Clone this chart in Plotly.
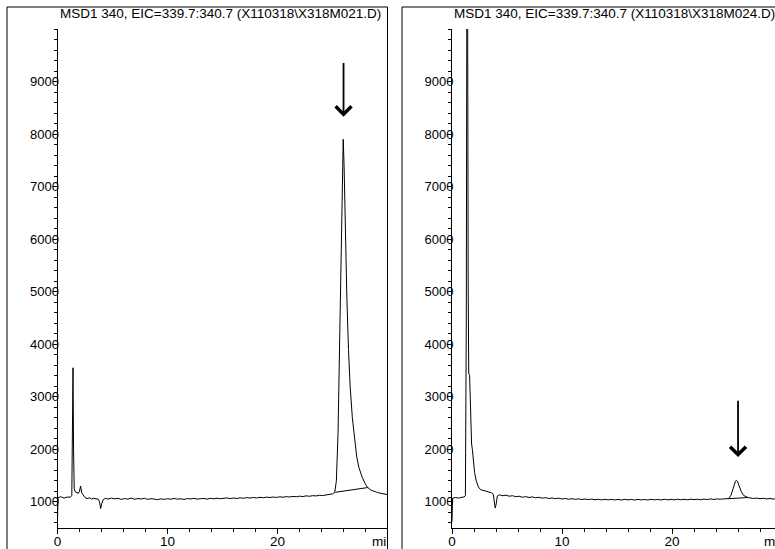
import plotly.graph_objects as go

# ---------------- data ----------------
titles = [r"MSD1 340, EIC=339.7:340.7 (X110318\X318M021.D)",
          r"MSD1 340, EIC=339.7:340.7 (X110318\X318M024.D)"]

left_time = [0.0, 0.05, 0.3, 0.6, 0.9, 1.15, 1.3, 1.36, 1.41, 1.46, 1.52, 1.6, 1.75, 1.9, 2.0, 2.1, 2.2,
             2.35, 2.5, 2.7, 2.9, 3.1, 3.3, 3.5, 3.7, 3.82, 3.92, 4.02, 4.15, 4.35, 4.6, 4.9, 5.2, 5.5,
             5.8, 6.1, 6.4, 6.7, 7.0, 7.3, 7.6, 7.9, 8.2, 8.5, 8.8, 9.1, 9.4, 9.7, 10.0, 10.3, 10.6,
             10.9, 11.2, 11.5, 11.8, 12.1, 12.4, 12.7, 13.0, 13.3, 13.6, 13.9, 14.2, 14.5, 14.8, 15.1,
             15.4, 15.7, 16.0, 16.3, 16.6, 16.9, 17.2, 17.5, 17.8, 18.1, 18.4, 18.7, 19.0, 19.3, 19.6,
             19.9, 20.2, 20.5, 20.8, 21.1, 21.4, 21.7, 22.0, 22.3, 22.6, 22.9, 23.2, 23.5, 23.8, 24.1,
             24.4, 24.7, 25.0, 25.2, 25.35, 25.5, 25.65, 25.8, 25.9, 25.97, 26.05, 26.15, 26.3, 26.45,
             26.6, 26.8, 27.0, 27.2, 27.4, 27.7, 28.0, 28.2, 28.5, 28.8, 29.1, 29.4, 29.7, 30.0]
left_signal = [650, 1080, 1095, 1070, 1090, 1085, 1120, 2200, 3550, 2000, 1250, 1190, 1170, 1160, 1200,
               1300, 1170, 1110, 1080, 1060, 1075, 1050, 1065, 1055, 1050, 1000, 870, 960, 1040, 1065,
               1050, 1070, 1055, 1065, 1045, 1060, 1050, 1068, 1048, 1060, 1052, 1066, 1045, 1058, 1050,
               1040, 1055, 1045, 1058, 1048, 1062, 1050, 1056, 1044, 1060, 1052, 1065, 1050, 1058, 1062,
               1050, 1066, 1055, 1068, 1058, 1064, 1072, 1060, 1070, 1062, 1075, 1066, 1078, 1070, 1080,
               1072, 1084, 1076, 1088, 1080, 1090, 1082, 1094, 1086, 1098, 1090, 1102, 1095, 1106, 1098,
               1112, 1104, 1116, 1110, 1124, 1118, 1132, 1140, 1150, 1175, 1400, 2300, 4200, 6400, 7500,
               7900, 7400, 6300, 4900, 3900, 3200, 2600, 2150, 1850, 1650, 1460, 1330, 1270, 1220, 1190,
               1175, 1160, 1145, 1135]
left_base_time = [25.25, 28.2]
left_base_signal = [1180, 1270]

right_time = [0.0, 0.05, 0.3, 0.6, 0.9, 1.1, 1.22, 1.3, 1.35, 1.42, 1.47, 1.52, 1.6, 1.68, 1.78, 1.85,
              1.95, 2.05, 2.2, 2.4, 2.6, 2.8, 3.0, 3.2, 3.4, 3.6, 3.75, 3.85, 3.93, 4.02, 4.12, 4.3, 4.6,
              4.9, 5.2, 5.5, 5.8, 6.1, 6.4, 6.7, 7.0, 7.3, 7.6, 7.9, 8.2, 8.5, 8.8, 9.1, 9.4, 9.7, 10.0,
              10.3, 10.6, 10.9, 11.2, 11.5, 11.8, 12.1, 12.4, 12.7, 13.0, 13.3, 13.6, 13.9, 14.2, 14.5,
              14.8, 15.1, 15.4, 15.7, 16.0, 16.3, 16.6, 16.9, 17.2, 17.5, 17.8, 18.1, 18.4, 18.7, 19.0,
              19.3, 19.6, 19.9, 20.2, 20.5, 20.8, 21.1, 21.4, 21.7, 22.0, 22.3, 22.6, 22.9, 23.2, 23.5,
              23.8, 24.1, 24.4, 24.7, 25.0, 25.15, 25.35, 25.55, 25.75, 25.85, 25.95, 26.1, 26.3, 26.5,
              26.7, 26.9, 27.1, 27.4, 27.7, 28.0, 28.3, 28.6, 28.9, 29.2, 29.5]
right_signal = [620, 1065, 1080, 1070, 1085, 1090, 1120, 4500, 10600, 10600, 5200, 3450, 3400, 2700,
                2100, 2000, 1750, 1560, 1400, 1280, 1230, 1215, 1200, 1195, 1180, 1170, 1140, 1020, 880,
                960, 1110, 1130, 1115, 1125, 1105, 1115, 1095, 1105, 1085, 1098, 1080, 1092, 1075, 1085,
                1068, 1078, 1062, 1072, 1058, 1068, 1052, 1062, 1048, 1058, 1045, 1055, 1042, 1052, 1040,
                1050, 1038, 1048, 1036, 1046, 1035, 1045, 1034, 1044, 1032, 1046, 1036, 1044, 1032, 1045,
                1035, 1043, 1033, 1046, 1036, 1044, 1034, 1047, 1037, 1045, 1036, 1048, 1038, 1046, 1037,
                1049, 1040, 1048, 1038, 1050, 1042, 1052, 1044, 1054, 1046, 1055, 1050, 1060, 1120, 1260,
                1380, 1410, 1390, 1300, 1190, 1120, 1095, 1080, 1072, 1062, 1070, 1058, 1066, 1054, 1062,
                1050, 1058]
right_base_time = [25.1, 26.9]
right_base_signal = [1058, 1080]

# arrow (time, tip signal, tail signal)
arrow_left = (26.0, 8330, 9380)
arrow_right = (26.0, 1850, 2950)

y_ticks = [1000, 2000, 3000, 4000, 5000, 6000, 7000, 8000, 9000]
x_ticks = [0, 10, 20]

# ---------------- figure ----------------
W, H = 775, 549
FONT = "Arial, Liberation Sans, sans-serif"

fig = go.Figure()
line = dict(color="black", width=1)
fig.add_trace(go.Scatter(x=left_time, y=left_signal, mode="lines", line=line, xaxis="x", yaxis="y"))
fig.add_trace(go.Scatter(x=left_base_time, y=left_base_signal, mode="lines", line=line, xaxis="x", yaxis="y"))
fig.add_trace(go.Scatter(x=right_time, y=right_signal, mode="lines", line=line, xaxis="x2", yaxis="y2"))
fig.add_trace(go.Scatter(x=right_base_time, y=right_base_signal, mode="lines", line=line, xaxis="x2", yaxis="y2"))

ydom = [1 - 528 / H, 1 - 29 / H]
common_x = dict(showgrid=False, zeroline=False, showline=True, linecolor="black", linewidth=1,
                ticks="outside", ticklen=5, tickcolor="black", tickvals=x_ticks, automargin=False,
                ticklabelstandoff=-4,
                tickfont=dict(family=FONT, size=13.5, color="black"),
                minor=dict(dtick=2, tick0=0, ticks="outside", ticklen=3, tickcolor="black"))
common_y = dict(showgrid=False, zeroline=False, showline=True, linecolor="black", linewidth=1,
                ticks="outside", ticklen=4, tickcolor="black", tickvals=y_ticks, range=[500, 10000],
                domain=ydom, ticklabelstandoff=-9, automargin=False,
                tickfont=dict(family=FONT, size=13, color="black"),
                minor=dict(dtick=200, tick0=0, ticks="outside", ticklen=3, tickcolor="black"))

fig.update_layout(
    width=W, height=H, margin=dict(l=0, r=0, t=0, b=0, autoexpand=False),
    paper_bgcolor="white", plot_bgcolor="white", showlegend=False,
    xaxis=dict(domain=[57.5 / W, 387 / W], range=[0, 29.95], anchor="y", **common_x),
    yaxis=dict(anchor="x", **common_y),
    xaxis2=dict(domain=[452 / W, 1.0], range=[0, 29.36], anchor="y2", **common_x),
    yaxis2=dict(anchor="x2", **common_y),
)

# panel frames
for x0, x1 in [(7 / W, 387.5 / W), (402 / W, 1.02)]:
    fig.add_shape(type="rect", xref="paper", yref="paper", x0=x0, x1=x1, y0=-0.02, y1=1 - 7 / H,
                  line=dict(color="black", width=1), fillcolor="rgba(0,0,0,0)", layer="above")

# titles
for txt, xp in [(titles[0], 58 / W), (titles[1], 452 / W)]:
    fig.add_annotation(text=txt, xref="paper", yref="paper", x=xp, y=1 - 14 / H, xanchor="left",
                       yanchor="middle", showarrow=False, font=dict(family=FONT, size=13.5, color="black"))

# clipped "min" labels
fig.add_annotation(text="mi", xref="paper", yref="paper", x=370 / W, y=1 - 541 / H, xanchor="left",
                   yanchor="middle", showarrow=False, font=dict(family=FONT, size=13.5, color="black"))
fig.add_annotation(text="m", xref="paper", yref="paper", x=762 / W, y=1 - 541 / H, xanchor="left",
                   yanchor="middle", showarrow=False, font=dict(family=FONT, size=13.5, color="black"))

# arrows
for (t, tip, tail), xr, yr in [(arrow_left, "x", "y"), (arrow_right, "x2", "y2")]:
    fig.add_annotation(x=t, y=tip, ax=t, ay=tail, xref=xr, yref=yr, axref=xr, ayref=yr,
                       text="", showarrow=True, arrowhead=4, arrowsize=1.7, arrowwidth=1.8,
                       arrowcolor="black")

fig.write_html("out.html")
